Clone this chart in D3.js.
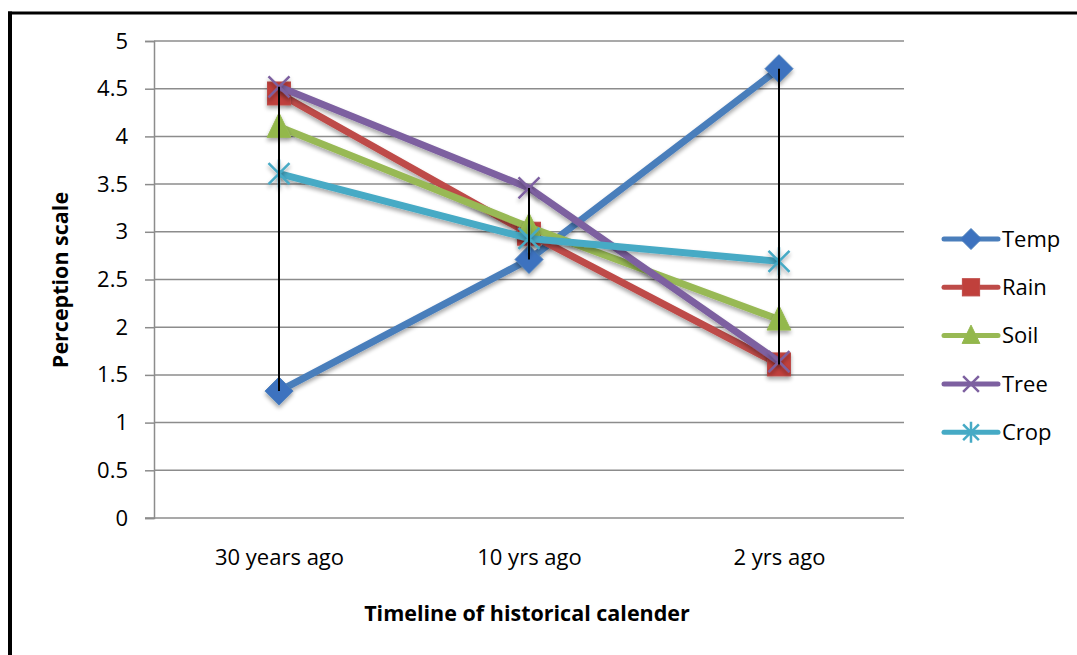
<!DOCTYPE html>
<html>
<head>
<meta charset="utf-8">
<script src="https://cdn.jsdelivr.net/npm/d3@7/dist/d3.min.js"></script>
<style>
  html, body { margin: 0; padding: 0; background: #fff; }
  svg { display: block; font-family: "Open Sans", sans-serif; }
</style>
</head>
<body>
<svg id="chart" width="1077" height="655"></svg>
<script>
// Timeline categories
const categories = ["30 years ago", "10 yrs ago", "2 yrs ago"];

// Perception scores per indicator
const seriesNames = ["Temp", "Rain", "Soil", "Tree", "Crop"];
const temp = [1.33, 2.71, 4.71];
const rain = [4.45, 2.98, 1.61];
const soil = [4.10, 3.05, 2.08];
const tree = [4.52, 3.46, 1.64];
const crop = [3.61, 2.93, 2.69];

const yTicks = [0, 0.5, 1, 1.5, 2, 2.5, 3, 3.5, 4, 4.5, 5];
const yTickLabels = ["0", "0.5", "1", "1.5", "2", "2.5", "3", "3.5", "4", "4.5", "5"];

const seriesValues = [temp, rain, soil, tree, crop];
const lineColors = ["#4a7ebb", "#be4b48", "#98b954", "#7d60a0", "#46aac5"];
const markerFill = ["#3d72bf", "#c0403c", "#93b84c", "#7a5a9e", "#3fa9c8"];
const markerKinds = ["diamond", "square", "triangle", "x", "asterisk"];

const FONT = "'Open Sans', sans-serif";
const svg = d3.select("#chart");

// outer frame (top and left edges visible)
svg.append("line").attr("x1", 8).attr("x2", 1077).attr("y1", 13).attr("y2", 13)
  .attr("stroke", "#000").attr("stroke-width", 3);
svg.append("line").attr("x1", 10).attr("x2", 10).attr("y1", 11.5).attr("y2", 655)
  .attr("stroke", "#000").attr("stroke-width", 4);

const defs = svg.append("defs");
const shadow = defs.append("filter").attr("id", "shadow")
  .attr("x", "-50%").attr("y", "-50%").attr("width", "200%").attr("height", "200%");
shadow.append("feGaussianBlur").attr("in", "SourceAlpha").attr("stdDeviation", 2).attr("result", "b");
shadow.append("feOffset").attr("in", "b").attr("dx", 0).attr("dy", 3).attr("result", "o");
shadow.append("feComponentTransfer").attr("in", "o").attr("result", "s")
  .append("feFuncA").attr("type", "linear").attr("slope", 0.35);
const merge = shadow.append("feMerge");
merge.append("feMergeNode").attr("in", "s");
merge.append("feMergeNode").attr("in", "SourceGraphic");

const plot = { left: 154, right: 904, top: 41, bottom: 518 };

const x = d3.scalePoint().domain(categories)
  .range([plot.left, plot.right]).padding(0.5);
const y = d3.scaleLinear().domain([0, 5]).range([plot.bottom, plot.top]);

// horizontal gridlines
svg.append("g").selectAll("line").data(yTicks.filter(t => t > 0)).join("line")
  .attr("x1", plot.left).attr("x2", plot.right)
  .attr("y1", d => y(d)).attr("y2", d => y(d))
  .attr("stroke", "#8c8c8c").attr("stroke-width", 1.5);

// y axis
const yAxis = svg.append("g").attr("transform", `translate(${plot.left},0)`)
  .call(d3.axisLeft(y).tickValues(yTicks)
    .tickFormat((d, i) => yTickLabels[i]).tickSize(9).tickPadding(17));
yAxis.select(".domain").attr("stroke", "#8c8c8c").attr("stroke-width", 1.5);
yAxis.selectAll(".tick line").attr("stroke", "#8c8c8c").attr("stroke-width", 1.5);
yAxis.selectAll("text").attr("font-size", 22).attr("fill", "#000")
  .attr("font-family", FONT);

// x axis
const xAxis = svg.append("g").attr("transform", `translate(0,${plot.bottom})`)
  .call(d3.axisBottom(x).tickSize(0).tickPadding(31));
xAxis.select(".domain").attr("stroke", "#8c8c8c").attr("stroke-width", 1.5)
  .attr("d", `M${plot.left - 9},0H${plot.right}`);
xAxis.selectAll("text").attr("font-size", 22).attr("fill", "#000")
  .attr("font-family", FONT);

// axis titles
svg.append("text").attr("x", 527).attr("y", 621).attr("text-anchor", "middle")
  .attr("font-size", 21.5).attr("font-weight", "bold").text("Timeline of historical calender");
svg.append("text").attr("transform", "translate(68,280) rotate(-90)")
  .attr("text-anchor", "middle").attr("font-size", 21.5).attr("font-weight", "bold")
  .text("Perception scale");

function drawMarker(g, kind, color, fill, s) {
  const h = s / 2;
  if (kind === "diamond") {
    g.append("path").attr("d", `M0,${-h}L${h},0L0,${h}L${-h},0Z`).attr("fill", fill)
      .attr("stroke", color).attr("stroke-width", 1);
  } else if (kind === "square") {
    g.append("rect").attr("x", -h * 0.82).attr("y", -h * 0.82)
      .attr("width", s * 0.82).attr("height", s * 0.82).attr("fill", fill)
      .attr("stroke", color).attr("stroke-width", 1);
  } else if (kind === "triangle") {
    g.append("path").attr("d", `M0,${-h}L${h * 0.85},${h * 0.75}L${-h * 0.85},${h * 0.75}Z`)
      .attr("fill", fill).attr("stroke", color).attr("stroke-width", 1);
  } else if (kind === "x") {
    const a = h * 0.75;
    g.append("path").attr("d", `M${-a},${-a}L${a},${a}M${-a},${a}L${a},${-a}`)
      .attr("stroke", color).attr("stroke-width", 2.5).attr("fill", "none");
  } else if (kind === "asterisk") {
    const a = h * 0.75;
    g.append("path").attr("d", `M${-a},${-a}L${a},${a}M${-a},${a}L${a},${-a}M0,${-h}L0,${h}`)
      .attr("stroke", color).attr("stroke-width", 2.5).attr("fill", "none");
  }
}

const line = d3.line().x((d, i) => x(categories[i])).y(d => y(d));

// series lines and markers
seriesValues.forEach((vals, si) => {
  const g = svg.append("g");
  g.append("path").datum(vals).attr("d", line).attr("fill", "none")
    .attr("stroke", lineColors[si]).attr("stroke-width", 7)
    .attr("stroke-linejoin", "round").attr("filter", "url(#shadow)");
  vals.forEach((v, i) => {
    const m = g.append("g").attr("transform", `translate(${x(categories[i])},${y(v)})`)
      .attr("filter", "url(#shadow)");
    drawMarker(m, markerKinds[si], lineColors[si], markerFill[si], 28);
  });
});

// high-low lines
svg.append("g").selectAll("line").data(categories).join("line")
  .attr("x1", d => x(d)).attr("x2", d => x(d))
  .attr("y1", (d, i) => y(d3.max(seriesValues, s => s[i])))
  .attr("y2", (d, i) => y(d3.min(seriesValues, s => s[i])))
  .attr("stroke", "#000").attr("stroke-width", 2);

// legend
const legend = svg.append("g");
seriesNames.forEach((name, si) => {
  const ly = 239 + si * 48.3;
  const g = legend.append("g").attr("transform", `translate(0,${ly})`);
  g.append("line").attr("x1", 944).attr("x2", 998).attr("y1", 0).attr("y2", 0)
    .attr("stroke", lineColors[si]).attr("stroke-width", 5).attr("stroke-linecap", "round");
  const m = g.append("g").attr("transform", "translate(971,0)");
  drawMarker(m, markerKinds[si], lineColors[si], markerFill[si], 21);
  g.append("text").attr("x", 1002).attr("y", 0).attr("dy", "0.35em")
    .attr("font-size", 22).attr("fill", "#000").text(name);
});
</script>
</body>
</html>
